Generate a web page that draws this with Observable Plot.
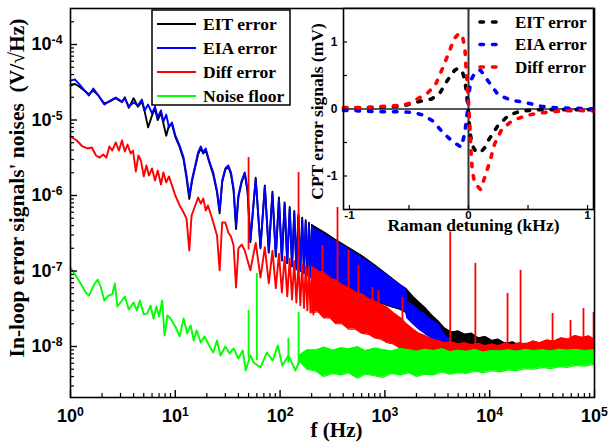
<!DOCTYPE html>
<html><head><meta charset="utf-8">
<script src="https://cdn.jsdelivr.net/npm/d3@7"></script>
<script src="https://cdn.jsdelivr.net/npm/@observablehq/plot@0.6"></script>
<style>
html,body{margin:0;padding:0;background:#fff;}
#wrap{position:relative;width:611px;height:447px;overflow:hidden;}
#wrap svg{position:absolute;}
</style></head><body><div id="wrap"></div>
<script>
// ---------- main chart data (f in Hz, noise in V/sqrt(Hz)) ----------
const traceF = [1,1.1,1.2,1.5,1.65,1.85,2.1,2.4,2.7,3.1,3.3,3.6,4,4.4,4.8,5.1,5.5,6,6.4,6.8,7.3,7.7,8.2,8.7,9.3,10,11,12,12.8,13.6,14.5,15.5,16.5,17.5,18.5,19.5,21,23,25,26.5,28,30,32,34,36,38,40,43,46,49,52,58.5,65,71.5,78,84.5,91,97.5,104,110.5,117,123.5,130,136.5,143,149.5,156,162.5,169,175.5,182,188.5,195,201.5,208];
const eitV = [2.86e-5,3.0e-5,2.8e-5,2.2e-5,2.45e-5,2.1e-5,1.65e-5,1.78e-5,1.95e-5,1.72e-5,2.0e-5,1.45e-5,1.95e-5,1.5e-5,1.75e-5,1.3e-5,8.0e-6,1.15e-5,1.4e-5,1.0e-5,1.25e-5,9.0e-6,6.2e-6,8.5e-6,8.8e-6,6.0e-6,4.4e-6,3.0e-6,1.7e-6,9.0e-7,1.6e-6,2.4e-6,3.5e-6,4.2e-6,3.6e-6,4.0e-6,2.8e-6,1.9e-6,1.1e-6,5.8e-7,1.5e-6,2.2e-6,2.4e-6,1.9e-6,1.15e-6,3.6e-7,9.5e-7,1.5e-6,1.95e-6,1.1e-6,2.4e-7,1.72e-6,2.0e-7,1.36e-6,1.75e-7,1.12e-6,1.55e-7,9.4e-7,1.38e-7,8.1e-7,1.27e-7,7.05e-7,1.15e-7,6.25e-7,1.05e-7,5.6e-7,1.0e-7,5.1e-7,9.3e-8,4.7e-7,8.8e-8,4.35e-7,8.3e-8,4.05e-7,8.0e-8];
const eiaV = [3.33e-5,3.44e-5,3.04e-5,2.11e-5,2.61e-5,2.11e-5,1.60e-5,1.81e-5,1.99e-5,1.76e-5,1.93e-5,1.51e-5,1.71e-5,1.56e-5,1.87e-5,1.34e-5,1.60e-5,1.22e-5,1.51e-5,1.08e-5,1.34e-5,9.55e-6,1.18e-5,7.96e-6,9.27e-6,6.24e-6,4.59e-6,3.18e-6,1.84e-6,1.0e-6,1.68e-6,2.5e-6,3.72e-6,4.46e-6,3.72e-6,4.2e-6,2.91e-6,2.02e-6,1.16e-6,6.33e-7,1.58e-6,2.28e-6,2.5e-6,2.02e-6,1.24e-6,4.01e-7,1.0e-6,1.58e-6,2.02e-6,1.16e-6,2.54e-7,1.63e-6,2.11e-7,1.29e-6,1.81e-7,1.05e-6,1.6e-7,8.83e-7,1.42e-7,7.6e-7,1.3e-7,6.62e-7,1.18e-7,5.86e-7,1.08e-7,5.27e-7,1.02e-7,4.77e-7,9.55e-8,4.39e-7,9.0e-8,4.07e-7,8.45e-8,3.81e-7,8.2e-8];

const diffF = [1,1.15,1.3,1.45,1.6,1.75,1.9,2.05,2.2,2.35,2.5,2.7,2.9,3.1,3.3,3.5,3.75,3.95,4.2,4.45,4.7,5,5.3,5.6,6,6.4,6.8,7.3,7.7,8.2,8.7,9.3,10,11,12,12.8,13.6,14.3,15.5,16.5,17.5,18.5,19.5,20.5,22,23.5,25,26.5,28,30,32,34,36,38,40,43,46,52,58.5,65,71.5,78,84.5,91,97.5,104,110.5,117,123.5,130,136.5,143,149.5,156,162.5,169,175.5,182,188.5,195,201.5,208];
const diffV = [6.04e-6,5.35e-6,4.46e-6,4.2e-6,4.33e-6,3.39e-6,3.18e-6,3.49e-6,3.18e-6,4.46e-6,3.94e-6,5.04e-6,3.94e-6,5.35e-6,3.83e-6,4.73e-6,3.6e-6,3.94e-6,2.08e-6,3.39e-6,2.91e-6,1.79e-6,2.5e-6,1.84e-6,2.28e-6,1.58e-6,2.14e-6,1.4e-6,2.02e-6,1.49e-6,1.79e-6,1.36e-6,1.0e-6,7.38e-7,5.96e-7,4.95e-7,1.87e-7,5.43e-7,7.38e-7,9.42e-7,7.83e-7,9.12e-7,6.33e-7,7.38e-7,5.43e-7,4.01e-7,2.95e-7,1.02e-7,4.39e-7,4.39e-7,3.24e-7,2.86e-7,2.18e-7,6.04e-8,1.99e-7,2.24e-7,1.87e-7,1.02e-7,2.36e-7,8.2e-8,2.07e-7,6.87e-8,1.85e-7,5.92e-8,1.69e-7,5.19e-8,1.56e-7,4.63e-8,1.45e-7,4.2e-8,1.35e-7,3.83e-8,1.28e-7,3.51e-8,1.21e-7,3.24e-8,1.15e-7,3.01e-8,1.1e-7,2.82e-8,1.05e-7,2.65e-8];

const noiseF = [1,1.2,1.4,1.5,1.7,1.82,1.95,2.1,2.3,2.5,2.65,2.8,3.1,3.3,3.6,4,4.3,4.6,5,5.4,5.8,6.2,6.6,7,7.5,7.9,8.4,9,10,11,12,13,14,15,16,17.5,19,21,23,25,27,30,33,36,40,44,47,52,56,65,75,85,95,105,120,140,160,180,200];
const noiseV = [1.11e-7,7.48e-8,5.19e-8,4.73e-8,6.82e-8,7.71e-8,6.04e-8,4.07e-8,4.73e-8,4.89e-8,6.82e-8,3.39e-8,4.07e-8,4.59e-8,3.09e-8,3.83e-8,3.0e-8,4.07e-8,2.65e-8,2.74e-8,3.49e-8,2.35e-8,3.39e-8,2.5e-8,4.07e-8,1.4e-8,2.57e-8,2.35e-8,1.84e-8,1.36e-8,2.35e-8,1.49e-8,1.9e-8,1.2e-8,1.63e-8,1.13e-8,1.36e-8,1.03e-8,8.33e-9,1.2e-8,7.6e-9,1.0e-8,8.07e-9,9.42e-9,6.93e-9,8.85e-9,4.81e-9,7.6e-9,6.14e-9,5.27e-9,8.33e-9,6.53e-9,1.03e-8,5.6e-9,7.6e-9,4.81e-9,7.38e-9,6.14e-9,8.07e-9];

// dense high-frequency regions: upper / lower envelopes
const eitBandF  = [200,260,340,450,600,800,1050,1400,1600,1850,2100,2400,2800,3200,3700,4300,5000,5800,6700,7800,9000,1.05e4,1.2e4,1.4e4,1.65e4,1.9e4,2.2e4,2.6e4,3e4,3.5e4,4.1e4,4.8e4,5.6e4,6.5e4,7.6e4,8.8e4,1e5];
const eitBandHi = [4.1e-7,3.3e-7,2.6e-7,2.05e-7,1.6e-7,1.2e-7,9.0e-8,6.6e-8,5.8e-8,4.6e-8,3.9e-8,3.3e-8,2.6e-8,2.2e-8,1.75e-8,1.55e-8,1.6e-8,1.45e-8,1.5e-8,1.3e-8,1.35e-8,1.2e-8,1.25e-8,1.1e-8,1.15e-8,1.05e-8,1.1e-8,1.0e-8,1.05e-8,9.6e-9,1.0e-8,9.5e-9,1.02e-8,1.0e-8,1.08e-8,1.05e-8,1.1e-8];
const eitBandLo = [8.0e-8,6.5e-8,5.5e-8,5.0e-8,4.5e-8,4.0e-8,3.5e-8,3.1e-8,2.8e-8,2.2e-8,1.8e-8,1.5e-8,1.3e-8,1.1e-8,9e-9,8e-9,7.5e-9,7e-9,6.5e-9,6.5e-9,6.5e-9,6.5e-9,6.5e-9,6.5e-9,6.5e-9,6.5e-9,6.5e-9,6.5e-9,6.5e-9,6.5e-9,6.5e-9,6.5e-9,6.5e-9,6.5e-9,6.5e-9,6.5e-9,6.5e-9];
const eiaBandF  = [200,230,260,300,340,390,450,520,600,700,800,920,1050,1200,1400,1580,1620,1850,2100,2400,2800,3200,3700,4300,5000,5800,6700,7800,9000,1.05e4,1.2e4,1.4e4,1.65e4,1.9e4,2.2e4,2.6e4,3e4,3.5e4,4.1e4,4.8e4,5.6e4,6.5e4,7.6e4,8.8e4,1e5];
const eiaBandHi = [3.77e-7,3.4e-7,3.1e-7,2.75e-7,2.45e-7,2.2e-7,1.95e-7,1.7e-7,1.5e-7,1.3e-7,1.15e-7,1.0e-7,8.8e-8,7.6e-8,6.5e-8,5.8e-8,3.9e-8,3.5e-8,3.0e-8,2.7e-8,2.2e-8,2.0e-8,1.45e-8,1.15e-8,1.05e-8,1.0e-8,9.6e-9,9.8e-9,9.2e-9,9.4e-9,9.0e-9,9.2e-9,9.0e-9,9.4e-9,9.2e-9,9.7e-9,9.4e-9,1.0e-8,9.7e-9,1.05e-8,1.0e-8,1.1e-8,1.05e-8,1.1e-8,1.02e-8];
const eiaBandLo = [8.5e-8,7.5e-8,7.0e-8,6.0e-8,5.8e-8,5.3e-8,5.1e-8,4.8e-8,4.6e-8,4.3e-8,4.0e-8,3.9e-8,3.6e-8,3.4e-8,3.2e-8,2.9e-8,2.4e-8,2.0e-8,1.7e-8,1.5e-8,1.3e-8,1.1e-8,9.0e-9,8.0e-9,7.0e-9,6.5e-9,6.3e-9,6.2e-9,6.0e-9,6.0e-9,6.0e-9,6.0e-9,6.0e-9,6.0e-9,6.1e-9,6.2e-9,6.3e-9,6.4e-9,6.5e-9,6.6e-9,6.8e-9,7.0e-9,7.0e-9,7.0e-9,7.0e-9];
const diffBandF  = [200,230,260,300,340,390,450,520,600,700,800,920,1050,1200,1400,1600,1850,2100,2400,2800,3200,3700,4300,5000,5800,6700,7800,9000,1.05e4,1.2e4,1.4e4,1.65e4,1.9e4,2.2e4,2.6e4,3e4,3.5e4,4.1e4,4.8e4,5.6e4,6.5e4,7.6e4,8.8e4,1e5];
const diffBandHi = [1.15e-7,1.0e-7,9.6e-8,8.0e-8,7.6e-8,6.6e-8,6.0e-8,5.3e-8,5.0e-8,4.3e-8,4.0e-8,3.6e-8,3.3e-8,2.8e-8,2.4e-8,2.0e-8,1.7e-8,1.5e-8,1.4e-8,1.25e-8,1.2e-8,1.12e-8,1.15e-8,1.08e-8,1.12e-8,1.05e-8,1.1e-8,1.02e-8,1.08e-8,1.02e-8,1.1e-8,1.05e-8,1.12e-8,1.08e-8,1.18e-8,1.12e-8,1.22e-8,1.18e-8,1.3e-8,1.25e-8,1.4e-8,1.32e-8,1.38e-8,1.25e-8];
const diffBandLo = [2.8e-8,2.9e-8,2.4e-8,2.4e-8,2.0e-8,2.0e-8,1.7e-8,1.7e-8,1.5e-8,1.45e-8,1.3e-8,1.25e-8,1.12e-8,1.08e-8,9.5e-9,9.0e-9,8.0e-9,7.8e-9,7.2e-9,7.2e-9,6.8e-9,6.8e-9,6.4e-9,6.6e-9,6.2e-9,6.5e-9,6.1e-9,6.4e-9,6.1e-9,6.3e-9,6.1e-9,6.4e-9,6.2e-9,6.5e-9,6.3e-9,6.7e-9,6.5e-9,6.9e-9,6.7e-9,7.1e-9,7.0e-9,7.3e-9,7.1e-9,7.4e-9];
const noiseBandF  = [150,180,220,260,320,380,450,550,650,800,950,1150,1400,1700,2000,2400,2900,3500,4200,5000,6000,7200,8700,1.05e4,1.25e4,1.5e4,1.8e4,2.2e4,2.6e4,3.2e4,3.8e4,4.6e4,5.5e4,6.6e4,8e4,1e5];
const noiseBandHi = [7.6e-9,9.0e-9,9.0e-9,9.8e-9,8.9e-9,9.6e-9,9.3e-9,9.9e-9,8.8e-9,9.5e-9,9.1e-9,8.7e-9,9.4e-9,9.0e-9,8.6e-9,9.2e-9,8.8e-9,9.3e-9,8.5e-9,8.9e-9,8.6e-9,9.1e-9,8.4e-9,8.8e-9,8.7e-9,9.0e-9,8.6e-9,9.1e-9,8.8e-9,9.0e-9,8.7e-9,9.2e-9,8.9e-9,9.1e-9,8.8e-9,9.0e-9];
const noiseBandLo = [6.6e-9,5.0e-9,4.7e-9,4.0e-9,4.4e-9,4.2e-9,4.5e-9,3.8e-9,4.3e-9,4.1e-9,3.9e-9,4.4e-9,4.2e-9,4.5e-9,4.0e-9,4.3e-9,4.2e-9,4.6e-9,4.3e-9,4.5e-9,4.4e-9,4.7e-9,4.5e-9,4.8e-9,4.6e-9,4.9e-9,4.8e-9,5.1e-9,5.0e-9,5.3e-9,5.1e-9,5.4e-9,5.3e-9,5.6e-9,5.5e-9,5.8e-9];

// narrow spectral lines
const diffSpikeF    = [50,150,254,353,450,560,762,868,1470,4200,7300,14800,19700,39800,59000,78500,98000];
const diffSpikeTop  = [3.18e-6,2.02e-6,2.18e-7,6.93e-7,1.87e-7,1.18e-7,6.04e-8,5.52e-8,4.46e-8,3.3e-7,1.26e-7,5.04e-8,1.02e-7,2.74e-8,2.21e-8,3.18e-8,2.82e-8];
const diffSpikeBase = [1.9e-7,1.28e-7,7.0e-8,5.5e-8,4.8e-8,4.3e-8,3.5e-8,3.3e-8,2.0e-8,1.0e-8,1.0e-8,1.0e-8,1.0e-8,1.0e-8,1.0e-8,1.0e-8,1.0e-8];
const noiseSpikeF    = [50,60,120,150];
const noiseSpikeTop  = [3.0e-8,9.27e-8,1.28e-8,2.82e-8];
const noiseSpikeBase = [7e-9,6.5e-9,6e-9,6e-9];

const seriesNames = ["EIT error","EIA error","Diff error","Noise floor"];
const seriesColors = ["#000000","#0000ff","#ff0000","#00ff00"];
const xMajor = [1,10,100,1e3,1e4,1e5];
const yMajor = [1e-8,1e-7,1e-6,1e-5,1e-4];

// ---------- inset data (detuning kHz, signal mV) ----------
const inDetEIT = [-1.05,-0.9,-0.8,-0.7,-0.6,-0.52,-0.42,-0.31,-0.24,-0.18,-0.12,-0.09,-0.05,-0.03,-0.015,0,0.01,0.03,0.06,0.1,0.14,0.17,0.25,0.34,0.44,0.6,0.8,1.05];
const inEIT    = [0,0.02,0.02,0.03,0.04,0.06,0.11,0.15,0.24,0.42,0.57,0.61,0.55,0.43,0.2,-0.06,-0.31,-0.54,-0.63,-0.65,-0.57,-0.46,-0.24,-0.09,-0.03,-0.01,-0.01,-0.01];
const inDetEIA = [-1.05,-0.9,-0.76,-0.6,-0.47,-0.38,-0.3,-0.21,-0.13,-0.06,-0.03,-0.01,0,0.02,0.06,0.1,0.16,0.25,0.36,0.47,0.61,0.75,0.9,1.05];
const inEIA    = [-0.02,-0.03,-0.04,-0.04,-0.05,-0.09,-0.18,-0.36,-0.49,-0.57,-0.35,-0.05,0.18,0.43,0.56,0.58,0.43,0.21,0.13,0.1,0.04,0.015,0.01,0];
const inDetDiff = [-1.05,-0.9,-0.8,-0.7,-0.6,-0.5,-0.43,-0.35,-0.28,-0.22,-0.17,-0.12,-0.08,-0.05,-0.03,-0.02,-0.01,0,0.01,0.02,0.03,0.05,0.1,0.14,0.18,0.22,0.28,0.35,0.42,0.5,0.6,0.7,0.8,0.9,1.05];
const inDiff    = [0.02,0.02,0.03,0.04,0.05,0.08,0.15,0.23,0.35,0.6,0.82,1.05,1.13,1.08,0.9,0.6,0.35,0.1,-0.2,-0.6,-0.88,-1.1,-1.2,-1.0,-0.78,-0.52,-0.3,-0.2,-0.14,-0.09,-0.06,-0.04,-0.03,-0.02,-0.03];
const insetNames = ["EIT error","EIA error","Diff error"];
const insetXTicks = [-1,0,1];
const insetYTicks = [-1,0,1];

// ---------- build ----------
const SERIF = "'Liberation Serif','Times New Roman',serif";
const SANS = "'Liberation Sans',Arial,sans-serif";
const pts = (F, V) => F.map((f, i) => ({f, v: V[i]}));
const band = (F, H, L) => F.map((f, i) => ({f, hi: H[i], lo: L[i]}));
const spikes = (F, T, B) => F.map((f, i) => ({f, top: T[i], base: B[i]}));

function seriesMarks(trace, bnd, color, spk) {
  const m = [
    Plot.areaY(bnd, {x: "f", y1: "lo", y2: "hi", fill: color}),
    Plot.line(bnd, {x: "f", y: "hi", stroke: color, strokeWidth: 1.2}),
    Plot.line(bnd, {x: "f", y: "lo", stroke: color, strokeWidth: 1.2}),
    Plot.line(trace, {x: "f", y: "v", stroke: color, strokeWidth: 1.9})
  ];
  if (spk) m.push(Plot.ruleX(spk, {x: "f", y1: "base", y2: "top", stroke: color, strokeWidth: 1.8}));
  return m;
}

const xMinor = [], yMinor = [];
for (let e = 0; e < 5; e++) for (let k = 2; k <= 9; k++) xMinor.push(k * 10 ** e);
for (let e = -9; e <= -4; e++) for (let k = 2; k <= 9; k++) { const v = k * 10 ** e; if (v > 2.2e-9 && v < 2.9e-4) yMinor.push(v); }
const expFmt = d => "10^" + Math.round(Math.log10(d));

const main = Plot.plot({
  width: 611, height: 447,
  marginLeft: 70, marginRight: 17, marginTop: 8, marginBottom: 50,
  x: {type: "log", domain: [1, 1e5]},
  y: {type: "log", domain: [2.11e-9, 3.0e-4]},
  style: {background: "transparent", overflow: "visible"},
  marks: [
    ...seriesMarks(pts(traceF, eitV), band(eitBandF, eitBandHi, eitBandLo), seriesColors[0]),
    ...seriesMarks(pts(traceF, eiaV), band(eiaBandF, eiaBandHi, eiaBandLo), seriesColors[1]),
    ...seriesMarks(pts(diffF, diffV), band(diffBandF, diffBandHi, diffBandLo), seriesColors[2], spikes(diffSpikeF, diffSpikeTop, diffSpikeBase)),
    ...seriesMarks(pts(noiseF, noiseV), band(noiseBandF, noiseBandHi, noiseBandLo), seriesColors[3], spikes(noiseSpikeF, noiseSpikeTop, noiseSpikeBase)),
    Plot.axisX({ticks: xMajor, tickSize: -7, tickFormat: () => "", label: null, strokeWidth: 1.4}),
    Plot.axisX({ticks: xMinor, tickSize: -4, tickFormat: () => "", label: null, strokeWidth: 1.2}),
    Plot.axisX({ticks: xMajor, tickSize: 0, tickPadding: 12, tickFormat: expFmt, label: null, fontSize: 18, fontWeight: "bold", fontFamily: SANS, fill: "#000"}),
    Plot.axisY({ticks: yMajor, tickSize: -7, tickFormat: () => "", label: null, strokeWidth: 1.4}),
    Plot.axisY({ticks: yMinor, tickSize: -4, tickFormat: () => "", label: null, strokeWidth: 1.2}),
    Plot.axisY({ticks: yMajor, tickSize: 0, tickPadding: 8, tickFormat: expFmt, label: null, fontSize: 18, fontWeight: "bold", fontFamily: SANS, fill: "#000"}),
    Plot.frame({stroke: "#000", strokeWidth: 1.6}),
    Plot.text(["In-loop error signals' noises\u00a0\u00a0(V/\u221aHz)"], {frameAnchor: "left", textAnchor: "middle", rotate: -90, dx: -53, dy: -15, fontSize: 21.5, fontWeight: "bold", fontFamily: SERIF, fill: "#000"}),
    Plot.text(["f (Hz)"], {frameAnchor: "bottom", textAnchor: "middle", dx: 4, dy: 39, fontSize: 21, fontWeight: "bold", fontFamily: SERIF, fill: "#000"})
  ]
});

const inset = Plot.plot({
  width: 321, height: 245,
  marginLeft: 53, marginRight: 18, marginTop: 8, marginBottom: 36,
  x: {domain: [-1.05, 1.05]},
  y: {domain: [-1.5, 1.5]},
  style: {background: "transparent", overflow: "visible"},
  marks: [
    Plot.frame({fill: "#fff", stroke: "none"}),
    Plot.ruleY([0], {stroke: "#222", strokeWidth: 1.6}),
    Plot.ruleX([0], {stroke: "#333", strokeWidth: 2}),
    Plot.line(inDetEIT.map((d, i) => ({d, s: inEIT[i]})), {x: "d", y: "s", stroke: seriesColors[0], strokeWidth: 3.6, strokeDasharray: "3.5,9", strokeLinecap: "round"}),
    Plot.line(inDetEIA.map((d, i) => ({d, s: inEIA[i]})), {x: "d", y: "s", stroke: seriesColors[1], strokeWidth: 3.6, strokeDasharray: "3.5,9", strokeLinecap: "round"}),
    Plot.line(inDetDiff.map((d, i) => ({d, s: inDiff[i]})), {x: "d", y: "s", stroke: seriesColors[2], strokeWidth: 3.6, strokeDasharray: "3.5,9", strokeLinecap: "round"}),
    Plot.frame({stroke: "#000", strokeWidth: 1.6}),
    Plot.axisX({ticks: [-1, -0.5, 0, 0.5, 1], tickSize: -4, tickFormat: () => "", label: null, strokeWidth: 1.2}),
    Plot.axisY({ticks: [-1, -0.5, 0, 0.5, 1], tickSize: -4, tickFormat: () => "", label: null, strokeWidth: 1.2}),
    Plot.axisX({ticks: insetXTicks, tickSize: 0, tickPadding: 1, tickFormat: d => String(d), label: null, fontSize: 11.5, fontWeight: "bold", fontFamily: SANS, fill: "#000"}),
    Plot.axisY({ticks: insetYTicks, tickSize: 0, tickPadding: 6, tickFormat: d => String(d), label: null, fontSize: 12, fontWeight: "bold", fontFamily: SANS, fill: "#000"}),
    Plot.text(["CPT error signals (mV)"], {frameAnchor: "left", textAnchor: "middle", rotate: -90, dx: -26, dy: 2.5, fontSize: 17.5, fontWeight: "bold", fontFamily: SERIF, fill: "#000"}),
    Plot.text(["Raman detuning (kHz)"], {frameAnchor: "bottom", textAnchor: "middle", dx: 5, dy: 21.5, fontSize: 17.5, fontWeight: "bold", fontFamily: SERIF, fill: "#000"})
  ]
});

// superscript exponents on the log-axis labels
function supify(svg) {
  svg.querySelectorAll("text").forEach(t => {
    const m = /^10\^(-?\d+)$/.exec(t.textContent.trim());
    if (!m) return;
    while (t.firstChild) t.removeChild(t.firstChild);
    t.appendChild(document.createTextNode("10"));
    const s = document.createElementNS("http://www.w3.org/2000/svg", "tspan");
    s.setAttribute("dy", "-0.5em");
    s.setAttribute("font-size", "0.68em");
    s.textContent = m[1];
    t.appendChild(s);
  });
}
supify(main);

// main legend
{
  const g = d3.select(main).append("g").attr("text-anchor", "start");
  g.append("rect").attr("x", 152).attr("y", 10).attr("width", 138).attr("height", 95)
    .attr("fill", "#fff").attr("stroke", "#000").attr("stroke-width", 1.5);
  seriesNames.forEach((name, i) => {
    const y = 24 + i * 24;
    g.append("line").attr("x1", 157).attr("x2", 196).attr("y1", y).attr("y2", y)
      .attr("stroke", seriesColors[i]).attr("stroke-width", 2.2);
    g.append("text").attr("x", 203).attr("y", y).attr("dy", "0.34em").attr("text-anchor", "start")
      .attr("font-family", SERIF).attr("font-weight", "bold").attr("font-size", 17.5).text(name);
  });
}
// inset legend
{
  const g = d3.select(inset).append("g").attr("text-anchor", "start");
  insetNames.forEach((name, i) => {
    const y = 22 + i * 22.5;
    g.append("line").attr("x1", 190).attr("x2", 214).attr("y1", y).attr("y2", y)
      .attr("stroke", seriesColors[i]).attr("stroke-width", 3.6)
      .attr("stroke-dasharray", "3.5,9").attr("stroke-linecap", "round");
    g.append("text").attr("x", 225).attr("y", y).attr("dy", "0.34em").attr("text-anchor", "start")
      .attr("font-family", SERIF).attr("font-weight", "bold").attr("font-size", 17).text(name);
  });
}

const wrap = document.getElementById("wrap");
main.style.left = "0px"; main.style.top = "0px";
inset.style.left = "290px"; inset.style.top = "0px";
wrap.appendChild(main);
wrap.appendChild(inset);
</script></body></html>
